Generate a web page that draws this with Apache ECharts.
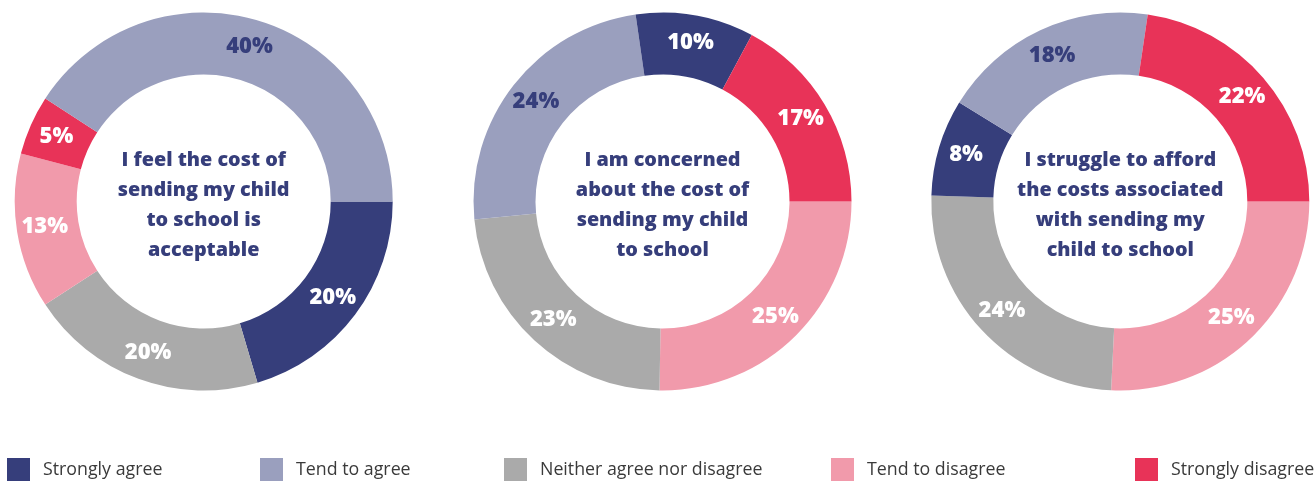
<!DOCTYPE html>
<html>
<head>
<meta charset="utf-8">
<script src="https://cdn.jsdelivr.net/npm/echarts@6/dist/echarts.min.js"></script>
<style>
  html, body { margin: 0; padding: 0; background: #ffffff; }
  #chart { width: 1316px; height: 482px; }
</style>
</head>
<body>
<div id="chart"></div>
<script>
// ---- Data ----
const categories = ['Strongly agree', 'Tend to agree', 'Neither agree nor disagree', 'Tend to disagree', 'Strongly disagree'];
// values in category order
const chart1Values = [20, 40, 20, 13, 5];
const chart2Values = [10, 24, 23, 25, 17];
const chart3Values = [8, 18, 24, 25, 22];
// drawing order (clockwise from 3 o'clock), as category indices
const chart1Order = [0, 2, 3, 4, 1];
const chart2Order = [3, 2, 1, 0, 4];
const chart3Order = [3, 2, 0, 1, 4];
const questions = [
  'I feel the cost of\nsending my child\nto school is\nacceptable',
  'I am concerned\nabout the cost of\nsending my child\nto school',
  'I struggle to afford\nthe costs associated\nwith sending my\nchild to school'
];

// ---- Styles ----
const colors = ['#363e7b', '#9a9fbe', '#aaaaaa', '#f19aab', '#e83358'];
const labelColors = ['#ffffff', '#363e7b', '#ffffff', '#ffffff', '#ffffff'];
const navy = '#363e7b';
const centersX = [203.7, 662.5, 1120.3];
const centerY = 201.5;
const radii = [127, 189];
const legendLefts = [7, 260, 504, 831, 1135];

function buildData(values, order) {
  return order.map(function (i) {
    return {
      name: categories[i],
      value: values[i],
      itemStyle: { color: colors[i] },
      label: { color: labelColors[i] }
    };
  });
}

const allValues = [chart1Values, chart2Values, chart3Values];
const allOrders = [chart1Order, chart2Order, chart3Order];

const series = allValues.map(function (vals, k) {
  return {
    type: 'pie',
    center: [centersX[k], centerY],
    radius: radii,
    startAngle: 0,
    clockwise: true,
    avoidLabelOverlap: false,
    silent: true,
    label: {
      show: true,
      position: 'inside',
      formatter: '{c}%',
      fontFamily: '"Open Sans"',
      fontWeight: 800,
      fontSize: 22
    },
    labelLine: { show: false },
    emphasis: { disabled: true },
    data: buildData(vals, allOrders[k])
  };
});

const legends = categories.map(function (name, i) {
  return {
    data: [name],
    left: legendLefts[i],
    top: 458,
    padding: 0,
    icon: 'rect',
    itemWidth: 23,
    itemHeight: 23,
    selectedMode: false,
    textStyle: {
      fontFamily: '"Open Sans"',
      fontSize: 17.8,
      color: '#3a3a3a',
      padding: [0, 0, 0, 8]
    }
  };
});

const graphics = questions.map(function (q, k) {
  return {
    type: 'text',
    x: centersX[k],
    y: centerY + 4,
    silent: true,
    style: {
      text: q,
      fill: navy,
      font: '800 19.8px "Open Sans"',
      lineHeight: 30,
      textAlign: 'center',
      textVerticalAlign: 'middle'
    }
  };
});

const chart = echarts.init(document.getElementById('chart'), null, { renderer: 'canvas' });
chart.setOption({
  animation: false,
  backgroundColor: '#ffffff',
  legend: legends,
  graphic: graphics,
  series: series
});
</script>
</body>
</html>
